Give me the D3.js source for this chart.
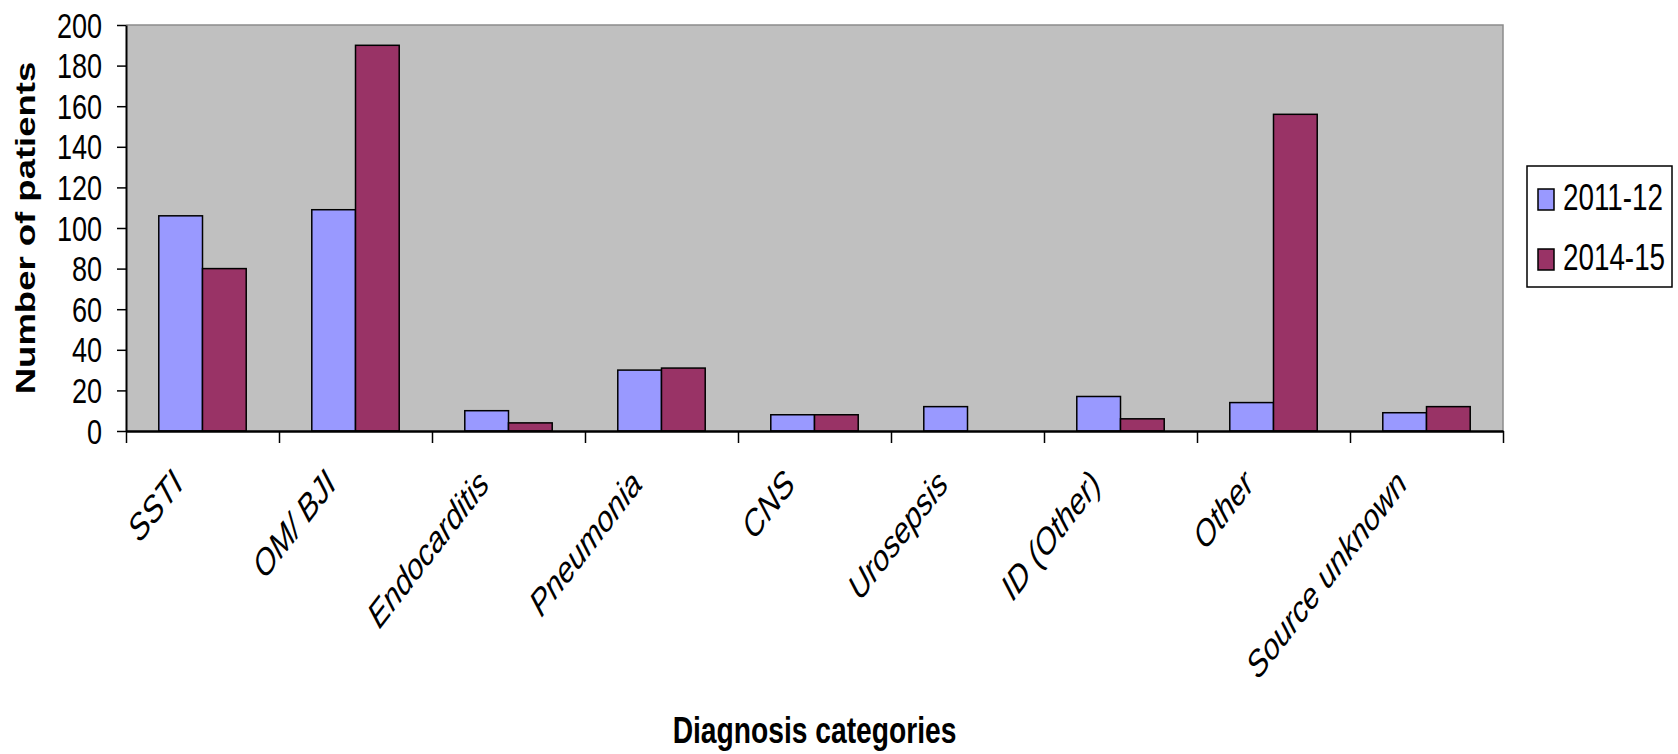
<!DOCTYPE html>
<html>
<head>
<meta charset="utf-8">
<script src="https://cdn.jsdelivr.net/npm/d3@7"></script>
<style>
  html, body { margin: 0; padding: 0; background: #fff; }
  svg { display: block; font-family: "Liberation Sans", Arial, sans-serif; }
</style>
</head>
<body>
<svg id="chart" width="1678" height="754"></svg>
<script>
// Diagnosis categories and patient counts per period
const categories = ["SSTI", "OM/ BJI", "Endocarditis", "Pneumonia", "CNS", "Urosepsis", "ID (Other)", "Other", "Source unknown"];
const seriesNames = ["2011-12", "2014-15"];
const values2011 = [106, 109, 10, 30, 8, 12, 17, 14, 9];
const values2014 = [80, 190, 4, 31, 8, 0, 6, 156, 12];
const yTicks = [0, 20, 40, 60, 80, 100, 120, 140, 160, 180, 200];
const seriesColors = ["#9999FF", "#993366"];

const svg = d3.select("#chart");
const plot = { left: 126, right: 1503, top: 25, bottom: 431 };
const SQUEEZE = 0.773;   // horizontal compression of the lettering
const FONT = 35;
const LABEL_FONT = 37;
const BOLD_FONT = 36.5;

const rows = categories.map((c, i) => ({ cat: c, vals: [values2011[i], values2014[i]] }));

const x0 = d3.scaleBand().domain(categories).range([plot.left, plot.right]).padding(0);
const x1 = d3.scaleBand().domain(seriesNames).range([0, x0.bandwidth()]).paddingInner(0).paddingOuter(0.75);
const y = d3.scaleLinear().domain([0, 200]).range([plot.bottom, plot.top]);
const xEdges = d3.scaleLinear().domain([0, categories.length]).range([plot.left, plot.right]);

// plot area
svg.append("rect")
  .attr("x", plot.left).attr("y", plot.top)
  .attr("width", plot.right - plot.left).attr("height", plot.bottom - plot.top)
  .attr("fill", "#C0C0C0");
svg.append("path")
  .attr("d", `M${plot.left},${plot.top}H${plot.right}V${plot.bottom}`)
  .attr("fill", "none").attr("stroke", "#8c8c8c").attr("stroke-width", 1.5);

// bars
const groups = svg.append("g").selectAll("g").data(rows).join("g")
  .attr("transform", d => `translate(${x0(d.cat)},0)`);
groups.selectAll("rect")
  .data(d => d.vals.map((v, k) => ({ v, k })))
  .join("rect")
  .filter(d => d.v > 0)
  .attr("x", d => x1(seriesNames[d.k]))
  .attr("y", d => y(d.v))
  .attr("width", x1.bandwidth())
  .attr("height", d => y(0) - y(d.v))
  .attr("fill", d => seriesColors[d.k])
  .attr("stroke", "#000").attr("stroke-width", 1.5);

// y axis
const yAxis = svg.append("g")
  .attr("transform", `translate(${plot.left},0)`)
  .call(d3.axisLeft(y).tickValues(yTicks).tickSize(9).tickSizeOuter(0).tickFormat(""));
yAxis.select(".domain").attr("stroke", "#000").attr("stroke-width", 2);
yAxis.selectAll(".tick line").attr("stroke", "#000").attr("stroke-width", 1.5);

svg.append("g").selectAll("text").data(yTicks).join("text")
  .attr("transform", d => `translate(102,${y(d) + 12.5}) scale(${SQUEEZE},1)`)
  .attr("text-anchor", "end")
  .attr("font-size", FONT)
  .attr("fill", "#000")
  .text(d => d);

// x axis with ticks on the category boundaries
const xAxis = svg.append("g")
  .attr("transform", `translate(0,${plot.bottom})`)
  .call(d3.axisBottom(xEdges).tickValues(d3.range(categories.length + 1)).tickSize(12).tickSizeOuter(0).tickFormat(""));
xAxis.select(".domain").attr("stroke", "#000").attr("stroke-width", 2.5);
xAxis.selectAll(".tick line").attr("stroke", "#000").attr("stroke-width", 1.5);

// slanted category labels
svg.append("g").selectAll("text").data(categories).join("text")
  .attr("transform", d => `translate(${x0(d) + x0.bandwidth() / 2 - 18},486) scale(${SQUEEZE},1) rotate(-45)`)
  .attr("text-anchor", "end")
  .attr("font-size", LABEL_FONT)
  .attr("font-style", "italic")
  .attr("fill", "#000")
  .text(d => d);

// axis titles
svg.append("text")
  .attr("transform", `translate(35,${(plot.top + plot.bottom) / 2}) scale(${SQUEEZE},1) rotate(-90)`)
  .attr("text-anchor", "middle")
  .attr("font-size", BOLD_FONT)
  .attr("font-weight", "bold")
  .text("Number of patients");
svg.append("text")
  .attr("transform", `translate(${(plot.left + plot.right) / 2},743) scale(${SQUEEZE},1)`)
  .attr("text-anchor", "middle")
  .attr("font-size", BOLD_FONT)
  .attr("font-weight", "bold")
  .text("Diagnosis categories");

// legend
const legend = svg.append("g");
legend.append("rect")
  .attr("x", 1527).attr("y", 166).attr("width", 145).attr("height", 121)
  .attr("fill", "#fff").attr("stroke", "#000").attr("stroke-width", 1.5);
const items = legend.selectAll("g.item").data(seriesNames).join("g")
  .attr("class", "item")
  .attr("transform", (d, i) => `translate(0,${i * 60})`);
items.append("rect")
  .attr("x", 1538).attr("y", 189).attr("width", 16).attr("height", 21)
  .attr("fill", (d, i) => seriesColors[i])
  .attr("stroke", "#000").attr("stroke-width", 1.5);
items.append("text")
  .attr("transform", `translate(1563,209.5) scale(${SQUEEZE},1)`)
  .attr("font-size", FONT + 1)
  .attr("fill", "#000")
  .text(d => d);
</script>
</body>
</html>
